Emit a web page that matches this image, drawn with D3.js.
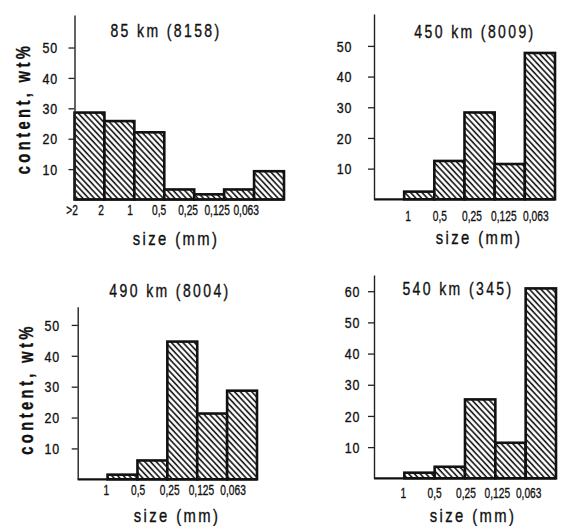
<!DOCTYPE html>
<html>
<head>
<meta charset="utf-8">
<script src="https://cdn.jsdelivr.net/npm/d3@7"></script>
<style>
  html, body { margin: 0; padding: 0; background: #fff; }
  svg { display: block; }
  text { font-family: "Liberation Sans", Arial, sans-serif; fill: #111; stroke: #111; stroke-width: 0.35px; }
</style>
</head>
<body>
<svg id="chart" width="564" height="526"></svg>
<script>
// ---- data ----
const titles = ["85 km (8158)", "450 km (8009)", "490 km (8004)", "540 km (345)"];
const sizeLabels85 = [">2", "2", "1", "0,5", "0,25", "0,125", "0,063"];
const sizeLabelsFine = ["1", "0,5", "0,25", "0,125", "0,063"];
const values85 = [28.6, 25.8, 22.1, 3.3, 1.7, 3.3, 9.3];
const values450 = [0, 2.5, 12.5, 28.3, 11.5, 47.7];
const values490 = [0, 1.5, 6.1, 44.6, 21.3, 28.7];
const values540 = [0, 1.8, 3.7, 25.3, 11.4, 60.9];
const yTicks50 = [10, 20, 30, 40, 50];
const yTicks60 = [10, 20, 30, 40, 50, 60];
const yAxisTitle = "content, wt%";
const xAxisTitle = "size (mm)";

// ---- layout ----
const panels = [
  { title: titles[0], values: values85, labels: sizeLabels85, firstBoundary: 0, ticks: yTicks50,
    x0: 74.5, x1: 284, base: 199.5, top: 15, domTop: 60.7, tickPad: 10.5,
    titleX: 166, titleY: 37, tlY: 215, lblDx0: -2.5, lblDk: -0.9,
    xtX: 176, xtY: 245, ylab: { x: 23, y: 108.5 } },
  { title: titles[1], values: values450, labels: sizeLabelsFine, firstBoundary: 1, ticks: yTicks50,
    x0: 374, x1: 555, base: 199.3, top: 14, domTop: 60.4, tickPad: 15.7,
    titleX: 475, titleY: 38, tlY: 221, lblDx0: 2, lblDk: 1.8,
    xtX: 479, xtY: 244, ylab: null },
  { title: titles[2], values: values490, labels: sizeLabelsFine, firstBoundary: 1, ticks: yTicks50,
    x0: 77.7, x1: 257, base: 479.3, top: 306.7, domTop: 55.9, tickPad: 11.7,
    titleX: 170, titleY: 297, tlY: 495, lblDx0: -3, lblDk: 1.8,
    xtX: 177, xtY: 522, ylab: { x: 26, y: 389 } },
  { title: titles[3], values: values540, labels: sizeLabelsFine, firstBoundary: 1, ticks: yTicks60,
    x0: 374, x1: 556, base: 478.3, top: 275, domTop: 65.2, tickPad: 7.7,
    titleX: 458, titleY: 295, tlY: 498, lblDx0: -2, lblDk: 1,
    xtX: 473, xtY: 522, ylab: null }
];

const SX = 0.8; // horizontal compression for a narrow lettering look

const svg = d3.select("#chart");

// hatch pattern
const defs = svg.append("defs");
const pat = defs.append("pattern")
  .attr("id", "hatch")
  .attr("patternUnits", "userSpaceOnUse")
  .attr("width", 4.2).attr("height", 10)
  .attr("patternTransform", "rotate(-43)");
pat.append("rect").attr("width", 4.2).attr("height", 10).attr("fill", "#fff");
pat.append("line").attr("x1", 1).attr("y1", 0).attr("x2", 1).attr("y2", 10)
  .attr("stroke", "#111").attr("stroke-width", 1.6);

function narrowText(sel, x, y, sx) {
  sel.attr("x", 0).attr("y", 0)
    .attr("transform", `translate(${x},${y}) scale(${sx},1)`);
  return sel;
}

panels.forEach(p => {
  const g = svg.append("g");
  const idx = d3.range(p.values.length);
  const x = d3.scaleBand().domain(idx).range([p.x0, p.x1]).padding(0);
  const y = d3.scaleLinear().domain([0, p.domTop]).range([p.base, p.top]);

  // bars
  g.selectAll("rect.bar")
    .data(p.values.map((v, i) => ({ v, i })).filter(d => d.v > 0))
    .join("rect")
    .attr("class", "bar")
    .attr("x", d => x(d.i))
    .attr("y", d => y(d.v))
    .attr("width", x.bandwidth())
    .attr("height", d => y(0) - y(d.v))
    .attr("fill", "url(#hatch)")
    .attr("stroke", "#111")
    .attr("stroke-width", 2.6);

  // baseline
  g.append("line")
    .attr("x1", p.x0).attr("x2", p.x1)
    .attr("y1", y(0)).attr("y2", y(0))
    .attr("stroke", "#111").attr("stroke-width", 2.2);

  // y axis
  const yAxis = d3.axisLeft(y).tickValues(p.ticks).tickSize(6).tickSizeOuter(0)
    .tickPadding(p.tickPad).tickFormat(d3.format("d"));
  const ga = g.append("g").attr("transform", `translate(${p.x0},0)`).call(yAxis);
  ga.select(".domain").attr("stroke", "#222").attr("stroke-width", 1.4);
  ga.selectAll(".tick line").attr("stroke", "#222").attr("stroke-width", 1.3);
  ga.selectAll(".tick text")
    .attr("fill", "#111")
    .attr("x", null)
    .attr("dy", "0.36em")
    .attr("transform", `translate(${-(6 + p.tickPad)},0) scale(0.86,1)`)
    .style("font-family", '"Liberation Sans", Arial, sans-serif')
    .style("font-size", "14.5px")
    .style("letter-spacing", "1px");

  // x boundary labels
  g.selectAll("text.xl")
    .data(p.labels)
    .join("text")
    .attr("class", "xl")
    .attr("text-anchor", "middle")
    .style("font-size", "15px")
    .text(d => d)
    .each(function (d, j) {
      const k = j + p.firstBoundary;
      const b = p.x0 + k * x.bandwidth();
      narrowText(d3.select(this), b + p.lblDx0 + p.lblDk * k, p.tlY, 0.68);
    });

  // x axis title
  narrowText(g.append("text")
    .attr("text-anchor", "middle")
    .style("font-size", "18.5px")
    .style("letter-spacing", "3px")
    .text(xAxisTitle), p.xtX, p.xtY, SX);

  // panel title
  narrowText(g.append("text")
    .attr("text-anchor", "middle")
    .style("font-size", "17.5px")
    .style("letter-spacing", "3px")
    .text(p.title), p.titleX, p.titleY, SX);

  // y axis title
  if (p.ylab) {
    g.append("text")
      .attr("transform", `translate(${p.ylab.x},${p.ylab.y}) rotate(-90) scale(0.76,1)`)
      .attr("text-anchor", "middle")
      .attr("dy", "0.35em")
      .style("font-size", "19.5px")
      .style("font-weight", "bold")
      .style("letter-spacing", "4.4px")
      .text(yAxisTitle);
  }
});
</script>
</body>
</html>
